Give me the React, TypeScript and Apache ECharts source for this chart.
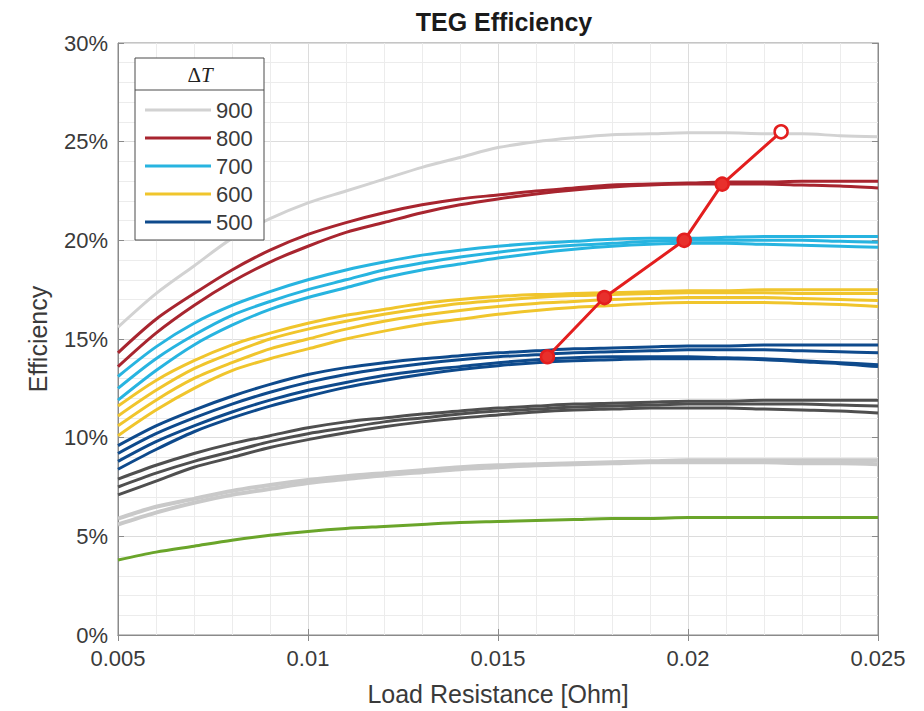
import React, { useEffect, useRef } from "react";
import * as echarts from "echarts";

// Load resistance samples [Ohm]
const loadResistance = [
  0.005, 0.006, 0.007, 0.008, 0.009, 0.01, 0.011, 0.012, 0.013, 0.014, 0.015,
  0.016, 0.017, 0.018, 0.019, 0.02, 0.021, 0.022, 0.023, 0.024, 0.025,
];

// Efficiency curves [%], grouped by temperature difference
const dT900 = [
  [15.6, 17.3, 18.7, 20.1, 21.1, 21.9, 22.5, 23.1, 23.7, 24.2, 24.7, 25.0, 25.2, 25.35, 25.4, 25.45, 25.45, 25.4, 25.4, 25.3, 25.25],
];
const dT800 = [
  [14.3, 16.0, 17.3, 18.5, 19.5, 20.3, 20.9, 21.4, 21.8, 22.1, 22.3, 22.5, 22.65, 22.8, 22.85, 22.9, 22.95, 22.95, 23.0, 23.0, 23.0],
  [13.6, 15.3, 16.7, 17.9, 18.9, 19.7, 20.4, 20.9, 21.4, 21.8, 22.1, 22.35, 22.55, 22.7, 22.8, 22.85, 22.85, 22.85, 22.8, 22.75, 22.65],
];
const dT700 = [
  [13.1, 14.6, 15.8, 16.7, 17.4, 18.0, 18.5, 18.9, 19.25, 19.5, 19.7, 19.85, 19.95, 20.05, 20.1, 20.1, 20.15, 20.2, 20.2, 20.2, 20.2],
  [12.5, 14.0, 15.2, 16.2, 16.9, 17.5, 18.0, 18.5, 18.85, 19.15, 19.4, 19.6, 19.75, 19.85, 19.95, 20.0, 20.0, 20.0, 20.0, 19.95, 19.9],
  [11.9, 13.4, 14.7, 15.7, 16.5, 17.1, 17.6, 18.1, 18.5, 18.8, 19.1, 19.35, 19.55, 19.7, 19.8, 19.85, 19.85, 19.8, 19.75, 19.7, 19.65],
];
const dT600 = [
  [11.6, 12.9, 13.9, 14.7, 15.3, 15.8, 16.2, 16.5, 16.8, 17.0, 17.15, 17.25, 17.3, 17.35, 17.4, 17.45, 17.45, 17.5, 17.5, 17.5, 17.5],
  [11.1, 12.4, 13.5, 14.3, 15.0, 15.5, 15.9, 16.25, 16.55, 16.8, 16.95, 17.1, 17.2, 17.25, 17.3, 17.35, 17.35, 17.35, 17.3, 17.3, 17.3],
  [10.6, 11.9, 13.0, 13.8, 14.5, 15.0, 15.5, 15.9, 16.2, 16.45, 16.65, 16.8, 16.9, 17.0, 17.05, 17.1, 17.1, 17.1, 17.05, 17.0, 16.95],
  [10.1, 11.4, 12.5, 13.4, 14.0, 14.5, 15.0, 15.4, 15.75, 16.0, 16.25, 16.45, 16.6, 16.7, 16.8, 16.85, 16.85, 16.85, 16.8, 16.75, 16.65],
];
const dT500 = [
  [9.6, 10.6, 11.4, 12.1, 12.7, 13.2, 13.55, 13.8, 14.0, 14.15, 14.3, 14.4, 14.5, 14.55, 14.6, 14.65, 14.65, 14.7, 14.7, 14.7, 14.7],
  [9.2, 10.2, 11.0, 11.7, 12.3, 12.8, 13.2, 13.5, 13.75, 13.95, 14.1, 14.2, 14.3, 14.35, 14.4, 14.45, 14.45, 14.45, 14.4, 14.35, 14.3],
  [8.8, 9.8, 10.6, 11.3, 11.9, 12.4, 12.8, 13.15, 13.4, 13.6, 13.8, 13.95, 14.05, 14.1, 14.1, 14.1, 14.05, 14.0, 13.9, 13.8, 13.7],
  [8.4, 9.4, 10.3, 11.0, 11.6, 12.1, 12.55, 12.9, 13.2, 13.45, 13.65, 13.8, 13.9, 13.95, 14.0, 14.0, 14.0, 13.95, 13.85, 13.75, 13.6],
];
const dT400 = [
  [7.9, 8.6, 9.2, 9.7, 10.1, 10.5, 10.8, 11.0, 11.2, 11.35, 11.5, 11.6, 11.7, 11.75, 11.8, 11.85, 11.85, 11.9, 11.9, 11.9, 11.9],
  [7.5, 8.2, 8.8, 9.3, 9.8, 10.2, 10.5, 10.8, 11.0, 11.2, 11.35, 11.45, 11.55, 11.6, 11.65, 11.7, 11.7, 11.7, 11.7, 11.65, 11.6],
  [7.1, 7.8, 8.5, 9.0, 9.5, 9.9, 10.25, 10.55, 10.8, 11.0, 11.15, 11.3, 11.4, 11.45, 11.5, 11.5, 11.5, 11.45, 11.4, 11.35, 11.25],
];
const dT300 = [
  [5.9, 6.5, 6.9, 7.3, 7.6, 7.85, 8.05, 8.2, 8.35, 8.5, 8.6, 8.65, 8.7, 8.75, 8.8, 8.85, 8.85, 8.85, 8.85, 8.85, 8.85],
  [5.6, 6.2, 6.7, 7.1, 7.4, 7.7, 7.9, 8.1, 8.25, 8.4, 8.5, 8.6, 8.65, 8.7, 8.75, 8.75, 8.75, 8.75, 8.7, 8.7, 8.65],
];
const dT200 = [
  [3.8, 4.2, 4.5, 4.8, 5.05, 5.25, 5.4, 5.5, 5.6, 5.7, 5.75, 5.8, 5.85, 5.9, 5.9, 5.95, 5.95, 5.95, 5.95, 5.95, 5.95],
];

// Peak-efficiency operating points
const peakResistance = [0.0163, 0.0178, 0.0199, 0.0209, 0.02245];
const peakEfficiency = [14.1, 17.1, 20.0, 22.85, 25.5];

const legendLabels = ["900", "800", "700", "600", "500"];
const yTicks = [0, 5, 10, 15, 20, 25, 30];

const groups = [
  { name: "900", curves: dT900, color: "#d2d2d2", width: 3 },
  { name: "800", curves: dT800, color: "#a8252f", width: 3 },
  { name: "700", curves: dT700, color: "#27b4e0", width: 3 },
  { name: "600", curves: dT600, color: "#f0c52c", width: 3 },
  { name: "500", curves: dT500, color: "#0e4a8c", width: 3 },
  { name: "400", curves: dT400, color: "#4f4f4f", width: 3 },
  { name: "300", curves: dT300, color: "#c9c9c9", width: 4 },
  { name: "200", curves: dT200, color: "#6aa52a", width: 3 },
];

const FONT = "'Liberation Sans', Arial, Helvetica, sans-serif";
const TEXT = "#3a3a3a";
const FRAME = "#8a8a8a";

export default function App() {
  const ref = useRef<HTMLDivElement>(null);

  useEffect(() => {
    if (!ref.current) return;
    const chart = echarts.init(ref.current, null, { renderer: "svg" });

    const series: any[] = [];
    groups.forEach((g) => {
      g.curves.forEach((c) => {
        series.push({
          type: "line",
          name: g.name,
          data: loadResistance.map((x, i) => [x, c[i]]),
          showSymbol: false,
          smooth: 0.3,
          lineStyle: { color: g.color, width: g.width },
          itemStyle: { color: g.color },
          z: 2,
        });
      });
    });

    series.push({
      type: "line",
      name: "peak",
      data: peakResistance.map((x, i) => ({
        value: [x, peakEfficiency[i]],
        itemStyle:
          i === peakResistance.length - 1
            ? { color: "#ffffff" }
            : undefined,
      })),
      symbol: "circle",
      symbolSize: 13,
      showSymbol: true,
      lineStyle: { color: "#e31e1e", width: 3 },
      itemStyle: { color: "#e8302c", borderColor: "#e31e1e", borderWidth: 2.5 },
      z: 6,
    });

    const tickInside = { show: true, inside: true, length: 6, lineStyle: { color: FRAME } };

    chart.setOption({
      animation: false,
      backgroundColor: "#ffffff",
      title: {
        text: "TEG Efficiency",
        left: 499,
        top: 4,
        textAlign: "center",
        textStyle: { fontFamily: FONT, fontSize: 25, fontWeight: "bold", color: "#1a1a1a" },
      },
      grid: {
        left: 118,
        right: 46,
        top: 43,
        bottom: 72,
        show: true,
        borderColor: FRAME,
        borderWidth: 1,
      },
      legend: {
        data: legendLabels,
        orient: "vertical",
        left: 145,
        top: 99,
        padding: 0,
        itemWidth: 66,
        itemHeight: 3,
        itemGap: 6,
        icon: "rect",
        selectedMode: false,
        textStyle: { fontFamily: FONT, fontSize: 22, color: TEXT, lineHeight: 22 },
        z: 10,
      },
      graphic: [
        {
          type: "rect",
          z: 8,
          shape: { x: 135, y: 58, width: 129, height: 182 },
          style: { fill: "#ffffff", stroke: "#4a4a4a", lineWidth: 1 },
        },
        {
          type: "line",
          z: 9,
          shape: { x1: 135, y1: 90, x2: 264, y2: 90 },
          style: { stroke: "#4a4a4a", lineWidth: 1 },
        },
        {
          type: "text",
          z: 9,
          x: 200,
          y: 75,
          style: {
            text: "{d|Δ}{t|T}",
            align: "center",
            verticalAlign: "middle",
            rich: {
              d: { fontFamily: "'Liberation Serif', 'DejaVu Serif', serif", fontSize: 21, fill: "#222" },
              t: { fontFamily: "'Liberation Serif', 'DejaVu Serif', serif", fontSize: 21, fontStyle: "italic", fill: "#222" },
            },
          },
        },
      ],
      xAxis: [
        {
          type: "value",
          min: 0.005,
          max: 0.025,
          interval: 0.005,
          name: "Load Resistance [Ohm]",
          nameLocation: "middle",
          nameGap: 46,
          nameTextStyle: { fontFamily: FONT, fontSize: 25, color: TEXT },
          axisLine: { show: true, lineStyle: { color: FRAME } },
          axisTick: tickInside,
          axisLabel: {
            fontFamily: FONT,
            fontSize: 22,
            color: TEXT,
            margin: 12,
            formatter: (v: number) => String(parseFloat(v.toFixed(4))),
          },
          splitLine: { show: true, lineStyle: { color: "#dcdcdc" } },
          minorTick: { show: false, splitNumber: 5 },
          minorSplitLine: { show: true, lineStyle: { color: "#ececec" } },
        },
        {
          type: "value",
          position: "top",
          min: 0.005,
          max: 0.025,
          interval: 0.005,
          axisLine: { show: true, lineStyle: { color: FRAME } },
          axisTick: tickInside,
          axisLabel: { show: false },
          splitLine: { show: false },
        },
      ],
      yAxis: [
        {
          type: "value",
          min: yTicks[0],
          max: yTicks[yTicks.length - 1],
          interval: 5,
          name: "Efficiency",
          nameLocation: "middle",
          nameGap: 68,
          nameTextStyle: { fontFamily: FONT, fontSize: 25, color: TEXT },
          axisLine: { show: true, lineStyle: { color: FRAME } },
          axisTick: tickInside,
          axisLabel: {
            fontFamily: FONT,
            fontSize: 22,
            color: TEXT,
            margin: 10,
            formatter: (v: number) => `${v}%`,
          },
          splitLine: { show: true, lineStyle: { color: "#dcdcdc" } },
          minorTick: { show: false, splitNumber: 5 },
          minorSplitLine: { show: true, lineStyle: { color: "#ececec" } },
        },
        {
          type: "value",
          position: "right",
          min: yTicks[0],
          max: yTicks[yTicks.length - 1],
          interval: 5,
          axisLine: { show: true, lineStyle: { color: FRAME } },
          axisTick: tickInside,
          axisLabel: { show: false },
          splitLine: { show: false },
        },
      ],
      series,
    });

    return () => chart.dispose();
  }, []);

  return (
    <div
      ref={ref}
      style={{ position: "absolute", left: 0, top: 0, width: 924, height: 711, background: "#fff" }}
    />
  );
}
